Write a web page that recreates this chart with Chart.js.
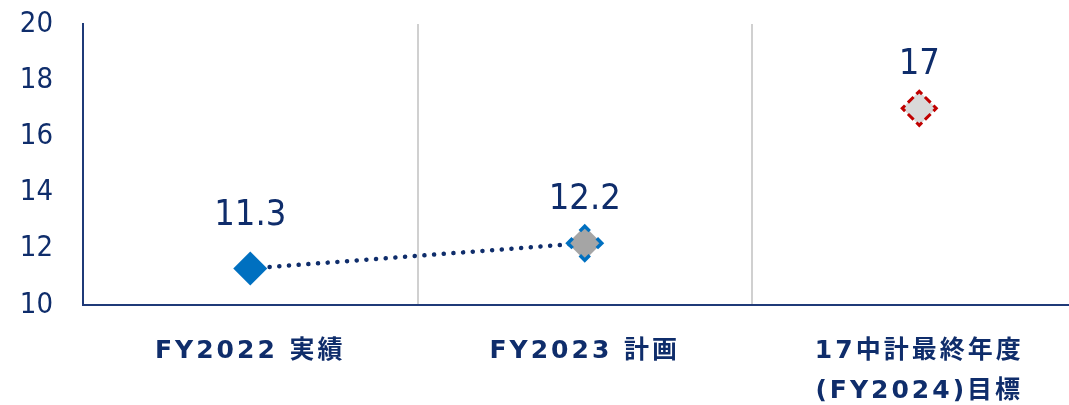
<!DOCTYPE html>
<html lang="ja">
<head>
<meta charset="utf-8">
<title>FY推移</title>
<script src="https://cdn.jsdelivr.net/npm/chart.js@4.4.1/dist/chart.umd.min.js"></script>
<style>
  html, body { margin: 0; padding: 0; background: #ffffff; overflow: hidden; }
  #wrap { position: relative; width: 1100px; height: 405px; }
  #c { display: block; width: 1100px; height: 405px; }
</style>
</head>
<body>
<div id="wrap"><canvas id="c" width="1100" height="405"></canvas></div>
<script>
// Categories (multi-line label for the target year)
const categories = [
  'FY2022 実績',
  'FY2023 計画',
  ['17中計最終年度', '(FY2024)目標']
];
// Values per category
const actual = [11.3, null, null];
const plan   = [null, 12.2, null];
const target = [null, null, 17];
// Y axis range / ticks
const yMin = 10, yMax = 20, yStep = 2;

const NAVY = '#0f2d6b';
const trend = actual.map((v, i) => v != null ? v : plan[i]);

// Dashed outlines for individual point datasets
const markerDash = {
  id: 'markerDash',
  beforeDatasetDraw(chart, args) {
    const ds = chart.data.datasets[args.index];
    const ctx = chart.ctx;
    ctx.save();
    if (ds.markerDash) {
      ctx.setLineDash(ds.markerDash);
      ctx.lineDashOffset = ds.markerDashOffset || 0;
    }
  },
  afterDatasetDraw(chart) {
    chart.ctx.restore();
  }
};

// Value labels above the markers
const valueLabels = {
  id: 'valueLabels',
  afterDatasetsDraw(chart) {
    const ctx = chart.ctx;
    ctx.save();
    ctx.font = "36px 'DejaVu Sans Condensed', 'DejaVu Sans', sans-serif";
    ctx.fillStyle = NAVY;
    ctx.textAlign = 'center';
    ctx.textBaseline = 'middle';
    chart.data.datasets.forEach((ds, di) => {
      if (!ds.valueLabel) return;
      const meta = chart.getDatasetMeta(di);
      ds.data.forEach((v, i) => {
        if (v == null) return;
        const pt = meta.data[i];
        ctx.fillText(String(v), pt.x, pt.y - ds.labelLift);
      });
    });
    ctx.restore();
  }
};

// Letter-spaced category labels
const spacedTicks = {
  id: 'spacedTicks',
  beforeDraw(chart) {
    const xs = chart.scales.x;
    if (xs && !xs._spaced) {
      const orig = xs.drawLabels.bind(xs);
      xs.drawLabels = function (area) {
        const ctx = chart.ctx;
        ctx.save();
        ctx.letterSpacing = '3px';
        orig(area);
        ctx.restore();
      };
      xs._spaced = true;
    }
  }
};

new Chart(document.getElementById('c'), {
  type: 'line',
  data: {
    labels: categories,
    datasets: [
      {
        data: trend,
        borderColor: NAVY,
        borderWidth: 4.5,
        borderDash: [0.1, 9.6],
        borderCapStyle: 'round',
        pointRadius: 0,
        spanGaps: false,
        order: 10
      },
      {
        data: actual,
        showLine: false,
        pointStyle: 'rectRot',
        pointRadius: 17,
        pointBackgroundColor: '#0070c0',
        pointBorderWidth: 0,
        valueLabel: true,
        labelLift: 53,
        order: 1
      },
      {
        data: plan,
        showLine: false,
        pointStyle: 'rectRot',
        pointRadius: 17,
        pointBackgroundColor: '#a5a5a5',
        pointBorderColor: '#0070c0',
        pointBorderWidth: 3.5,
        markerDash: [14, 10.04],
        markerDashOffset: 7,
        valueLabel: true,
        labelLift: 44,
        order: 1
      },
      {
        data: target,
        showLine: false,
        pointStyle: 'rectRot',
        pointRadius: 17,
        pointBackgroundColor: '#d9d9d9',
        pointBorderColor: '#c00000',
        pointBorderWidth: 3,
        markerDash: [8, 4.02],
        markerDashOffset: 4,
        valueLabel: true,
        labelLift: 44,
        order: 1
      }
    ]
  },
  options: {
    responsive: false,
    maintainAspectRatio: false,
    animation: false,
    devicePixelRatio: 1,
    layout: { autoPadding: false, padding: { top: 24, right: 13.5, left: 0, bottom: 0 } },
    plugins: { legend: { display: false }, tooltip: { enabled: false } },
    elements: { point: { hoverRadius: 17 } },
    scales: {
      x: {
        offset: true,
        grid: { display: true, offset: true, color: '#d0d0d0', lineWidth: 2, drawTicks: false },
        border: { display: true, color: '#1f3a78', width: 2, z: 1 },
        ticks: {
          color: NAVY,
          padding: 26,
          maxRotation: 0,
          autoSkip: false,
          font: { family: "'DejaVu Sans', 'Noto Sans CJK JP', sans-serif", size: 25, weight: 'bold', lineHeight: 1.6 }
        },
        afterFit(scale) {
          scale.height = 100;
          scale.paddingLeft = 0;
          scale.paddingRight = 0;
        }
      },
      y: {
        min: yMin,
        max: yMax,
        grid: { display: false, drawTicks: false },
        border: { display: true, color: '#1f3a78', width: 2, z: 1 },
        ticks: {
          stepSize: yStep,
          color: NAVY,
          padding: 30,
          font: { family: "'DejaVu Sans Condensed', 'DejaVu Sans', sans-serif", size: 29 }
        },
        afterFit(scale) {
          scale.width = 83;
          scale.paddingTop = 0;
          scale.paddingBottom = 0;
        }
      }
    }
  },
  plugins: [markerDash, valueLabels, spacedTicks]
});
</script>
</body>
</html>
